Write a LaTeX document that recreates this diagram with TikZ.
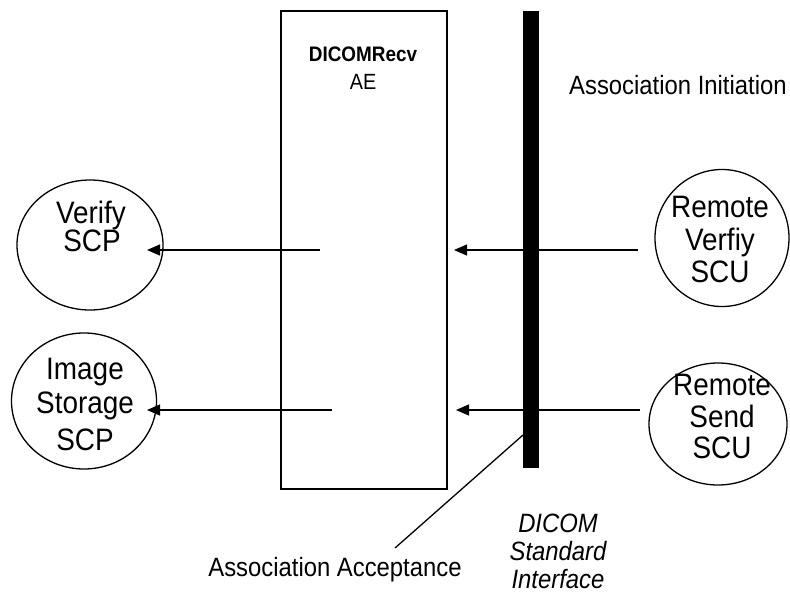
\documentclass[tikz,border=0pt]{standalone}
\usepackage{fontspec}
\setmainfont[FakeStretch=0.9]{Liberation Sans}
\usetikzlibrary{arrows.meta,shapes.geometric}
\begin{document}
\begin{tikzpicture}[x=1pt,y=-1pt,
  circ/.style={draw, ellipse, inner sep=0pt, line width=1.3pt},
  ctext/.style={font=\fontsize{31}{31}\selectfont, anchor=base, inner sep=0pt},
  lbl/.style={font=\fontsize{26.5}{28}\selectfont, inner sep=0pt},
  ilbl/.style={font=\itshape\fontsize{26.5}{28}\selectfont, anchor=base, inner sep=0pt},
  arr/.style={-{Triangle[length=13pt,width=11pt]}, line width=1.3pt},
  thinline/.style={line width=1.3pt}]
\useasboundingbox (0,0) rectangle (790,592);

% application entity box
\node[draw, line width=1.3pt, minimum width=166pt, minimum height=478pt, inner sep=0pt] (ae) at (364,250) {};
\node[font=\bfseries\fontsize{21}{24}\selectfont, anchor=base, inner sep=0pt] (aename) at (363,61) {DICOMRecv};
\node[font=\fontsize{22}{24}\selectfont, anchor=base, inner sep=0pt] (aetype) at (363,89) {AE};

% interface bar
\node[fill=black, draw=none, minimum width=16pt, minimum height=457pt, inner sep=0pt] (bar) at (531,239.5) {};

% left circles
\node[circ, minimum width=146pt, minimum height=130pt] (verify) at (90,245) {};
\node[ctext] (verify1) at (91,223) {Verify};
\node[ctext] (verify2) at (92,251) {SCP};

\node[circ, minimum width=145pt, minimum height=136pt] (storage) at (84,401) {};
\node[ctext] (storage1) at (85,379) {Image};
\node[ctext] (storage2) at (85,413) {Storage};
\node[ctext] (storage3) at (85,450) {SCP};

% right circles
\node[circ, minimum width=134pt, minimum height=137pt] (rverify) at (722,238) {};
\node[ctext] (rverify1) at (720,217) {Remote};
\node[ctext] (rverify2) at (720,250) {Verfiy};
\node[ctext] (rverify3) at (720,282) {SCU};

\node[circ, minimum width=138pt, minimum height=122pt] (rsend) at (718,424) {};
\node[ctext] (rsend1) at (722,395) {Remote};
\node[ctext] (rsend2) at (722,427) {Send};
\node[ctext] (rsend3) at (722,458) {SCU};

% arrows
\coordinate (a1s) at (320,250);
\coordinate (a1e) at (147,250);
\coordinate (a2s) at (638,250);
\coordinate (a2e) at (454,250);
\coordinate (a3s) at (332,410);
\coordinate (a3e) at (147,410);
\coordinate (a4s) at (640,410);
\coordinate (a4e) at (456,410);
\draw[arr] (a1s) -- (a1e);
\draw[arr] (a2s) -- (a2e);
\draw[arr] (a3s) -- (a3e);
\draw[arr] (a4s) -- (a4e);

% labels
\node[lbl, anchor=base west] (init) at (569,94) {Association Initiation};
\node[lbl, anchor=base] (accept) at (335,576) {Association Acceptance};
\coordinate (dtop) at (523,435);
\coordinate (dbot) at (395,548);
\draw[thinline] (dbot) -- (dtop);

\node[ilbl] (dicom1) at (558,532) {DICOM};
\node[ilbl] (dicom2) at (558,560) {Standard};
\node[ilbl] (dicom3) at (558,588) {Interface};
\end{tikzpicture}
\end{document}
